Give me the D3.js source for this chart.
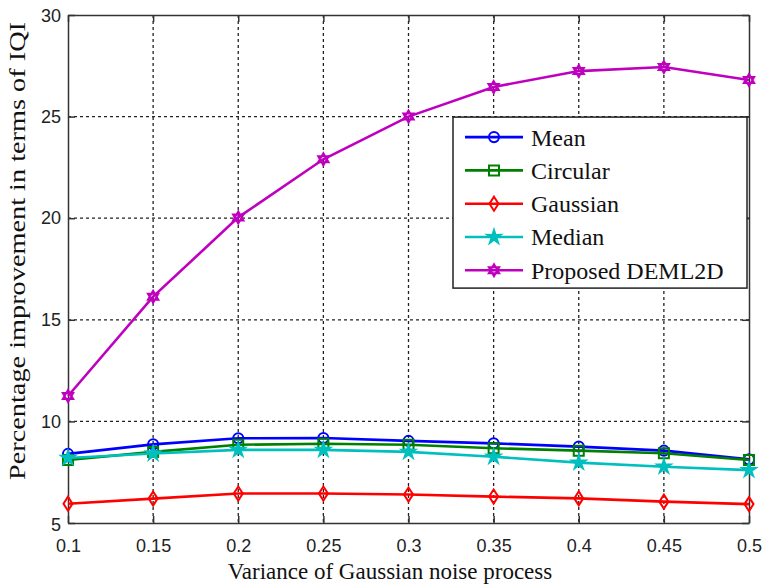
<!DOCTYPE html>
<html>
<head>
<meta charset="utf-8">
<script src="https://cdn.jsdelivr.net/npm/d3@7"></script>
<style>
  body { margin: 0; background: #fff; }
  svg { display: block; }
</style>
</head>
<body>
<svg id="chart" width="764" height="584"></svg>
<script>
// data
const variance = [0.1, 0.15, 0.2, 0.25, 0.3, 0.35, 0.4, 0.45, 0.5];
const meanVals = [8.4, 8.87, 9.17, 9.18, 9.04, 8.92, 8.76, 8.56, 8.13];
const circularVals = [8.1, 8.5, 8.85, 8.9, 8.85, 8.68, 8.56, 8.43, 8.1];
const gaussianVals = [5.95, 6.2, 6.45, 6.45, 6.4, 6.3, 6.21, 6.05, 5.93];
const medianVals = [8.2, 8.42, 8.6, 8.6, 8.5, 8.26, 7.97, 7.77, 7.6];
const proposedVals = [11.25, 16.14, 20.04, 22.9, 25.0, 26.46, 27.24, 27.44, 26.8];
const xTicks = [0.1, 0.15, 0.2, 0.25, 0.3, 0.35, 0.4, 0.45, 0.5];
const yTicks = [5, 10, 15, 20, 25, 30];

const series = [
  {name: "Mean", vals: meanVals, color: "#0000ff", marker: "circle"},
  {name: "Circular", vals: circularVals, color: "#008000", marker: "square"},
  {name: "Gaussian", vals: gaussianVals, color: "#ff0000", marker: "diamond"},
  {name: "Median", vals: medianVals, color: "#00bfbf", marker: "star"},
  {name: "Proposed DEML2D", vals: proposedVals, color: "#bf00bf", marker: "hexagram"}
];

let svg = d3.select("#chart"),
    margin = {top: 15, right: 15, bottom: 61, left: 68},
    width = +svg.attr("width") - margin.left - margin.right,
    height = +svg.attr("height") - margin.top - margin.bottom,
    g = svg.append("g").attr("transform", "translate(" + margin.left + "," + margin.top + ")");

let x = d3.scaleLinear().domain([0.1, 0.5]).range([0, width]);
let y = d3.scaleLinear().domain([5, 30]).range([height, 0]);

// grid
g.append("g").selectAll("line").data(xTicks.slice(1, -1)).enter().append("line")
  .attr("x1", d => x(d)).attr("x2", d => x(d))
  .attr("y1", 0).attr("y2", height)
  .attr("stroke", "#222").attr("stroke-width", 1.3).attr("stroke-dasharray", "3,3");
g.append("g").selectAll("line").data(yTicks.slice(1, -1)).enter().append("line")
  .attr("x1", 0).attr("x2", width)
  .attr("y1", d => y(d)).attr("y2", d => y(d))
  .attr("stroke", "#222").attr("stroke-width", 1.3).attr("stroke-dasharray", "3,3");

// axes
let xAxis = g.append("g").attr("transform", "translate(0," + height + ")")
  .call(d3.axisBottom(x).tickValues(xTicks).tickSizeInner(-7).tickSizeOuter(0).tickPadding(16)
    .tickFormat(d => d3.format("")(+d.toFixed(2))));
let yAxis = g.append("g")
  .call(d3.axisLeft(y).tickValues(yTicks).tickSizeInner(-7).tickSizeOuter(0).tickPadding(7));
g.append("g").call(d3.axisTop(x).tickValues(xTicks).tickSizeInner(-7).tickSizeOuter(0).tickFormat(""));
g.append("g").attr("transform", "translate(" + width + ",0)")
  .call(d3.axisRight(y).tickValues(yTicks).tickSizeInner(-7).tickSizeOuter(0).tickFormat(""));
g.selectAll(".domain, .tick line").attr("stroke", "#333").attr("stroke-width", 1.5);
g.selectAll(".tick text").attr("font-family", "Liberation Sans, Arial, sans-serif")
  .attr("font-size", 18).attr("fill", "#222");
yAxis.selectAll(".tick").filter(d => d === 5).select("text").attr("dy", "0.4em");
yAxis.selectAll(".tick").filter(d => d === 30).select("text").attr("dy", "0.35em");

// markers
function markerPath(type) {
  if (type === "circle") return d3.symbol(d3.symbolCircle, 80)();
  if (type === "square") return "M-5,-5L5,-5L5,5L-5,5Z";
  if (type === "diamond") return "M0,-7L4.5,0L0,7L-4.5,0Z";
  if (type === "star") {
    let p = [];
    for (let i = 0; i < 10; i++) {
      let r = i % 2 ? 2.6 : 7, a = -Math.PI / 2 + i * Math.PI / 5;
      p.push([r * Math.cos(a), r * Math.sin(a)]);
    }
    return "M" + p.join("L") + "Z";
  }
  let r = 6, t1 = [], t2 = [];
  for (let i = 0; i < 3; i++) {
    let a = -Math.PI / 2 + i * 2 * Math.PI / 3;
    t1.push([r * Math.cos(a), r * Math.sin(a)]);
    t2.push([r * Math.cos(a + Math.PI), r * Math.sin(a + Math.PI)]);
  }
  return "M" + t1.join("L") + "Z M" + t2.join("L") + "Z";
}

let line = d3.line().x((d, i) => x(variance[i])).y(d => y(d));

series.forEach(s => {
  let sg = g.append("g");
  sg.append("path").datum(s.vals)
    .attr("d", line).attr("fill", "none")
    .attr("stroke", s.color).attr("stroke-width", 2.6);
  sg.selectAll("path.m").data(s.vals).enter().append("path")
    .attr("class", "m")
    .attr("d", markerPath(s.marker))
    .attr("transform", (d, i) => "translate(" + x(variance[i]) + "," + y(d) + ")")
    .attr("fill", s.marker === "star" ? s.color : "none")
    .attr("stroke", s.color).attr("stroke-width", 2);
});

// legend
let lg = g.append("g").attr("transform", "translate(" + (453 - margin.left) + "," + (y(25) + 0.5) + ")");
lg.append("rect").attr("width", 294).attr("height", 171)
  .attr("fill", "#fff").attr("stroke", "#222").attr("stroke-width", 1.5);
series.forEach((s, i) => {
  let row = lg.append("g").attr("transform", "translate(0," + (20 + i * 33.3) + ")");
  row.append("line").attr("x1", 12).attr("x2", 70).attr("stroke", s.color).attr("stroke-width", 2.6);
  row.append("path").attr("d", markerPath(s.marker)).attr("transform", "translate(41,0)")
    .attr("fill", s.marker === "star" ? s.color : "none")
    .attr("stroke", s.color).attr("stroke-width", 2);
  row.append("text").attr("x", 78).attr("dy", "0.35em")
    .attr("font-family", "Liberation Serif, Times New Roman, serif")
    .attr("font-size", 24).attr("fill", "#111").text(s.name);
});

// axis titles
svg.append("text").attr("x", 390).attr("y", 579)
  .attr("text-anchor", "middle")
  .attr("font-family", "Liberation Serif, Times New Roman, serif")
  .attr("font-size", 23).attr("fill", "#111")
  .text("Variance of Gaussian noise process");
svg.append("text").attr("transform", "translate(25,251) rotate(-90)")
  .attr("text-anchor", "middle")
  .attr("font-family", "Liberation Serif, Times New Roman, serif")
  .attr("font-size", 24).attr("fill", "#111")
  .attr("textLength", 458).attr("lengthAdjust", "spacingAndGlyphs")
  .text("Percentage improvement in terms of IQI");
</script>
</body>
</html>
